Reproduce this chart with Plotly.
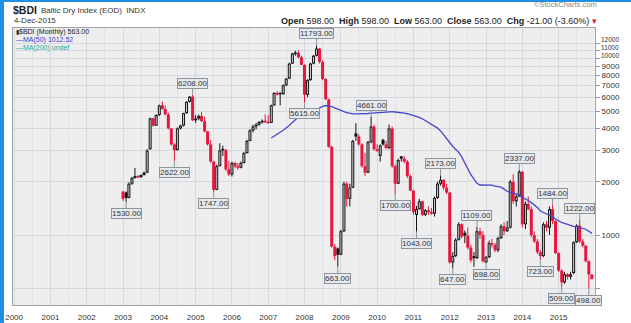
import numpy as np
import pandas as pd
import plotly.graph_objects as go

# ---------------- data (monthly $BDI, Jan 2003 .. Dec 2015) ----------------
months = pd.date_range("2003-01-01", "2015-12-01", freq="MS")

opens = [
    1760, 1740, 1620, 1950, 2100, 2150, 2120, 2180, 2250, 3050, 4560, 4150,   # 2003
    4765, 5400, 5150, 4800, 4000, 3250, 3020, 4000, 4150, 4880, 5650, 6050,   # 2004
    4450, 4550, 4700, 4400, 3850, 3250, 2600, 1800, 2450, 3050, 3020, 2350,   # 2005
    2200, 2550, 2450, 2400, 2550, 2900, 3400, 3900, 4100, 4200, 4350, 4400,   # 2006
    4350, 4300, 5400, 6350, 6350, 6250, 7000, 7650, 9300, 10550, 10700, 10100,  # 2007
    9150, 6200, 7500, 9300, 10300, 11300, 9500, 7600, 5850, 3150, 860, 840,   # 2008
    774, 1050, 1950, 1600, 1850, 3750, 3600, 3250, 2450, 2250, 3350, 4100,   # 2009
    3050, 2800, 3450, 3250, 3100, 4000, 2450, 1950, 2780, 2700, 2600, 2150,  # 2010
    1780, 1300, 1400, 1550, 1300, 1380, 1350, 1320, 1620, 1950, 2050, 1850,  # 2011
    1738, 700, 760, 940, 1150, 1030, 990, 850, 760, 740, 1050, 1000,         # 2012
    700, 750, 900, 880, 820, 960, 1120, 1050, 1100, 2000, 1550, 1650,        # 2013
    2277, 1150, 1500, 1400, 1000, 920, 800, 760, 1150, 1100, 1400, 1200,     # 2014
    790, 630, 540, 600, 580, 610, 910, 1130, 920, 870, 710, 598,             # 2015
]
highs = [
    1770, 1760, 1980, 2130, 2390, 2180, 2200, 2280, 3050, 4600, 4600, 4800,
    5450, 5681, 5400, 4900, 4020, 3300, 4050, 4200, 4900, 5700, 6100, 6208,
    4760, 4800, 4950, 4650, 3880, 3440, 2620, 2500, 3300, 3200, 3060, 2620,
    2600, 2600, 2550, 2600, 2950, 3450, 3950, 4200, 4300, 4400, 4500, 4800,
    4760, 5450, 6400, 6500, 6400, 7100, 7700, 9400, 10700, 11000, 11039, 10300,
    9200, 7600, 9400, 10400, 11793, 11400, 9700, 7700, 5900, 3200, 890, 850,
    1070, 2000, 2000, 1950, 3450, 4291, 3700, 3300, 2900, 3400, 4661, 4200,
    3250, 3250, 3500, 3400, 4209, 4100, 2500, 2700, 2800, 2800, 2650, 2200,
    1800, 1460, 1600, 1560, 1400, 1450, 1420, 1650, 2000, 2173, 2060, 1950,
    1750, 800, 960, 1180, 1165, 1060, 1100, 880, 800, 1109, 1100, 1050,
    760, 930, 950, 900, 980, 1150, 1180, 1200, 2050, 2200, 1700, 2337,
    2300, 1550, 1650, 1450, 1050, 950, 820, 1180, 1200, 1450, 1484, 1210,
    800, 640, 620, 610, 620, 920, 1150, 1222, 950, 880, 720, 598,
]
lows = [
    1560, 1530, 1610, 1920, 2080, 2100, 2110, 2170, 2240, 3040, 4080, 4140,
    4700, 5100, 4750, 3950, 3200, 2622, 3000, 3950, 4100, 4850, 5600, 4400,
    4300, 4450, 4350, 3800, 3200, 2560, 1747, 1790, 2440, 2800, 2300, 2150,
    2140, 2380, 2330, 2380, 2540, 2890, 3390, 3800, 3950, 4150, 4250, 4300,
    4250, 4290, 5380, 6150, 5400, 6200, 6950, 7600, 9250, 10300, 10000, 9100,
    5615, 6000, 7450, 9200, 10200, 9300, 7500, 5800, 3100, 850, 720, 663,
    770, 1040, 1450, 1450, 1840, 3400, 3200, 2400, 2150, 2240, 3300, 3000,
    2950, 2600, 3200, 3050, 3050, 2400, 1700, 1940, 2600, 2550, 2100, 1770,
    1300, 1043, 1390, 1280, 1280, 1300, 1300, 1270, 1600, 1900, 1800, 1700,
    690, 647, 750, 930, 960, 900, 830, 700, 661, 730, 950, 699,
    698, 740, 850, 800, 800, 950, 1000, 1040, 1090, 1500, 1450, 1640,
    1100, 1080, 1380, 970, 900, 780, 723, 750, 1050, 1000, 1150, 780,
    620, 509, 530, 560, 560, 600, 900, 900, 850, 700, 498, 563,
]
closes = [
    1600, 1620, 1950, 2100, 2150, 2120, 2180, 2250, 3000, 4560, 4150, 4765,
    5400, 5150, 4800, 4000, 3250, 3020, 4000, 4150, 4880, 5650, 6050, 4450,
    4550, 4700, 4400, 3850, 3250, 2600, 1800, 2450, 3000, 3020, 2350, 2200,
    2550, 2450, 2400, 2550, 2900, 3400, 3900, 4100, 4200, 4350, 4400, 4350,
    4300, 5400, 6350, 6200, 6250, 7000, 7650, 9300, 10600, 10700, 10100, 9150,
    6200, 7500, 9300, 10300, 11300, 9500, 7600, 5850, 3150, 860, 760, 774,
    1050, 1950, 1600, 1850, 3400, 3600, 3250, 2450, 2250, 3350, 4100, 3050,
    2980, 3200, 3250, 3100, 4000, 2450, 1950, 2650, 2700, 2600, 2150, 1780,
    1350, 1400, 1550, 1300, 1380, 1350, 1320, 1620, 1950, 2050, 1850, 1738,
    700, 760, 940, 1150, 980, 990, 850, 720, 740, 1050, 1000, 710,
    750, 900, 880, 820, 960, 1120, 1050, 1100, 2000, 1550, 1650, 2277,
    1150, 1500, 1400, 1000, 920, 800, 760, 1150, 1100, 1400, 1200, 790,
    630, 540, 600, 580, 600, 910, 1130, 920, 870, 710, 598, 563,
]

# swing-high / swing-low annotations (date, value, side)
label_dates = ["2003-02-01", "2004-06-01", "2004-12-01", "2005-07-01", "2008-01-01",
               "2008-05-01", "2008-12-01", "2009-11-01", "2010-07-01", "2011-02-01",
               "2011-10-01", "2012-02-01", "2012-10-01", "2013-01-01", "2013-12-01",
               "2014-07-01", "2014-11-01", "2015-02-01", "2015-08-01", "2015-11-01"]
label_values = [1530, 2622, 6208, 1747, 5615, 11793, 663, 4661, 1700, 1043,
                2173, 647, 1109, 698, 2337, 723, 1484, 509, 1222, 498]
label_sides = ["below", "below", "above", "below", "below", "above", "below", "above",
               "below", "below", "above", "below", "above", "below", "above", "below",
               "above", "below", "above", "below"]

year_ticks = [f"{y}-01-01" for y in range(2000, 2016)]
y_ticks = [500, 1000, 2000, 3000, 4000, 5000, 6000, 7000, 8000, 9000, 10000, 11000, 12000]
y_ticktext = ["", "1000", "2000", "3000", "4000", "5000", "6000", "7000", "8000",
              "9000", "", "", ""]
# top labels are stacked tightly in the reference, drawn separately
top_tick_text = ["10000", "11000", "12000"]

# ---------------- styling ----------------
BLACK = "#141414"
RED = "#e5173d"
HOLLOW = "#cfcfcf"
GRID = "#d3d9e0"
FONT = "Liberation Sans, Arial, sans-serif"

W, H = 631, 323
L, R, T, B = 13, 595, 28, 305
PX_PER_DECADE = 177.0
PXF = 10 ** (1.0 / PX_PER_DECADE)   # value factor per pixel on the log axis

df = pd.DataFrame({"d": months, "o": opens, "h": highs, "l": lows, "c": closes})
df["prev"] = df["c"].shift(1).fillna(df["o"])
df["col"] = np.where(df["c"] >= df["prev"], "k", "r")
df["hollow"] = df["c"] >= df["o"]
ma50 = df["c"].rolling(50).mean()

fig = go.Figure()


def segs(sub, y0col, y1col, shrink=False, minpx=1.5):
    xs, ys = [], []
    for _, r in sub.iterrows():
        lo = min(r[y0col], r[y1col])
        hi = max(r[y0col], r[y1col])
        if hi / lo < PXF ** minpx:
            mid = np.sqrt(hi * lo)
            lo, hi = mid / PXF ** (minpx / 2), mid * PXF ** (minpx / 2)
        if shrink:
            if hi / lo < PXF ** 2.6:
                continue
            lo, hi = lo * PXF, hi / PXF
        xs += [r["d"], r["d"], None]
        ys += [lo, hi, None]
    return xs, ys


for key, color in (("k", BLACK), ("r", RED)):
    sub = df[df["col"] == key]
    xs, ys = segs(sub, "l", "h", minpx=0.5)
    fig.add_trace(go.Scatter(x=xs, y=ys, mode="lines", line=dict(color=color, width=1),
                             hoverinfo="skip"))
    xs, ys = segs(sub, "o", "c")
    fig.add_trace(go.Scatter(x=xs, y=ys, mode="lines", line=dict(color=color, width=3),
                             hoverinfo="skip"))
    xs, ys = segs(sub[sub["hollow"]], "o", "c", shrink=True)
    fig.add_trace(go.Scatter(x=xs, y=ys, mode="lines", line=dict(color=HOLLOW, width=1),
                             hoverinfo="skip"))

fig.add_trace(go.Scatter(x=df["d"], y=ma50, mode="lines",
                         line=dict(color="#4646cc", width=1.3), hoverinfo="skip"))


def px_x(px):
    return (px - L) / (R - L)


def px_y(py):
    return (B - py) / (B - T)


annotations = []
for d, v, s in zip(label_dates, label_values, label_sides):
    annotations.append(dict(
        x=d, y=np.log10(v), xref="x", yref="y", text=f"{v:.2f}",
        showarrow=True, arrowhead=0, arrowwidth=1, arrowcolor="#8d949c",
        ax=0, ay=-11.5 if s == "above" else 11.5,
        font=dict(family=FONT, size=8, color="#333333"),
        bgcolor="#e6eaee", bordercolor="#8d949c", borderwidth=1, borderpad=0,
    ))

# stacked top tick labels of the right axis
for txt, py in zip(top_tick_text, [55.0, 47.5, 40.0]):
    annotations.append(dict(x=px_x(600), y=px_y(py), xref="paper", yref="paper",
                            xanchor="left", yanchor="middle", text=txt, showarrow=False,
                            borderpad=0, font=dict(family=FONT, size=6.5, color="#333")))

# header
annotations += [
    dict(x=px_x(12), y=px_y(10), xref="paper", yref="paper", xanchor="left", yanchor="middle",
         text="<b>$BDI</b>", showarrow=False, borderpad=0,
         font=dict(family=FONT, size=10.5, color="#222")),
    dict(x=px_x(40), y=px_y(10.5), xref="paper", yref="paper", xanchor="left", yanchor="middle",
         text="Baltic Dry Index (EOD)  INDX", showarrow=False, borderpad=0,
         font=dict(family=FONT, size=8, color="#333")),
    dict(x=px_x(13), y=px_y(20.5), xref="paper", yref="paper", xanchor="left", yanchor="middle",
         text="4-Dec-2015", showarrow=False, borderpad=0,
         font=dict(family=FONT, size=8, color="#333")),
    dict(x=px_x(598), y=px_y(5), xref="paper", yref="paper", xanchor="right", yanchor="middle",
         text="©StockCharts.com", showarrow=False, borderpad=0,
         font=dict(family=FONT, size=7.5, color="#888")),
    dict(x=px_x(598), y=px_y(20.5), xref="paper", yref="paper", xanchor="right", yanchor="middle",
         text="<b>Open</b> 598.00  <b>High</b> 598.00  <b>Low</b> 563.00  <b>Close</b> 563.00  "
              "<b>Chg</b> -21.00 (-3.60%) <span style='color:#e5173d'>▾</span>",
         showarrow=False, borderpad=0, font=dict(family=FONT, size=9, color="#222")),
    # in-plot legend
    dict(x=px_x(15), y=px_y(32), xref="paper", yref="paper", xanchor="left", yanchor="middle",
         text="<span style='font-size:6px'>▮</span>$BDI (Monthly) 563.00", showarrow=False,
         borderpad=0, font=dict(family=FONT, size=7, color="#222")),
    dict(x=px_x(15), y=px_y(40), xref="paper", yref="paper", xanchor="left", yanchor="middle",
         text="—MA(50) 1012.52", showarrow=False, borderpad=0,
         font=dict(family=FONT, size=7, color="#3a3ac8")),
    dict(x=px_x(15), y=px_y(48), xref="paper", yref="paper", xanchor="left", yanchor="middle",
         text="—MA(200) undef", showarrow=False, borderpad=0,
         font=dict(family=FONT, size=7, color="#2aa898")),
]

shapes = [
    dict(type="rect", xref="paper", yref="paper", x0=px_x(0), x1=px_x(4), y0=px_y(323), y1=px_y(0),
         fillcolor="#1f8fe6", line=dict(width=0), layer="above"),
    dict(type="rect", xref="paper", yref="paper", x0=px_x(0), x1=px_x(631), y0=px_y(2), y1=px_y(0),
         fillcolor="#1f8fe6", line=dict(width=0), layer="above"),
]

fig.update_layout(
    width=W, height=H,
    margin=dict(l=L, r=W - R, t=T, b=H - B, pad=0, autoexpand=False),
    paper_bgcolor="white", plot_bgcolor="#eeeeee",
    showlegend=False,
    font=dict(family=FONT, size=8, color="#333"),
    annotations=annotations, shapes=shapes,
    xaxis=dict(type="date", range=["1999-12-21", "2016-01-02"], automargin=False,
               tickvals=year_ticks, tickformat="%Y",
               ticks="outside", ticklen=4, tickcolor="rgba(0,0,0,0)", showgrid=True,
               gridcolor=GRID, gridwidth=1,
               minor=dict(dtick="M6", tick0="2000-01-01", showgrid=True, gridcolor="#dde2e7"),
               showline=True, linecolor="#a3a3a3", mirror=True, zeroline=False,
               tickfont=dict(family=FONT, size=8, color="#333")),
    yaxis=dict(type="log", side="right", range=[2.6045, 4.1695], automargin=False,
               tickvals=y_ticks, ticktext=y_ticktext, ticks="outside", ticklen=4,
               tickcolor="#999", showgrid=True, gridcolor=GRID, gridwidth=1,
               showline=True, linecolor="#a3a3a3", mirror=True, zeroline=False,
               tickfont=dict(family=FONT, size=8, color="#333")),
)

fig.write_html("out.html")
